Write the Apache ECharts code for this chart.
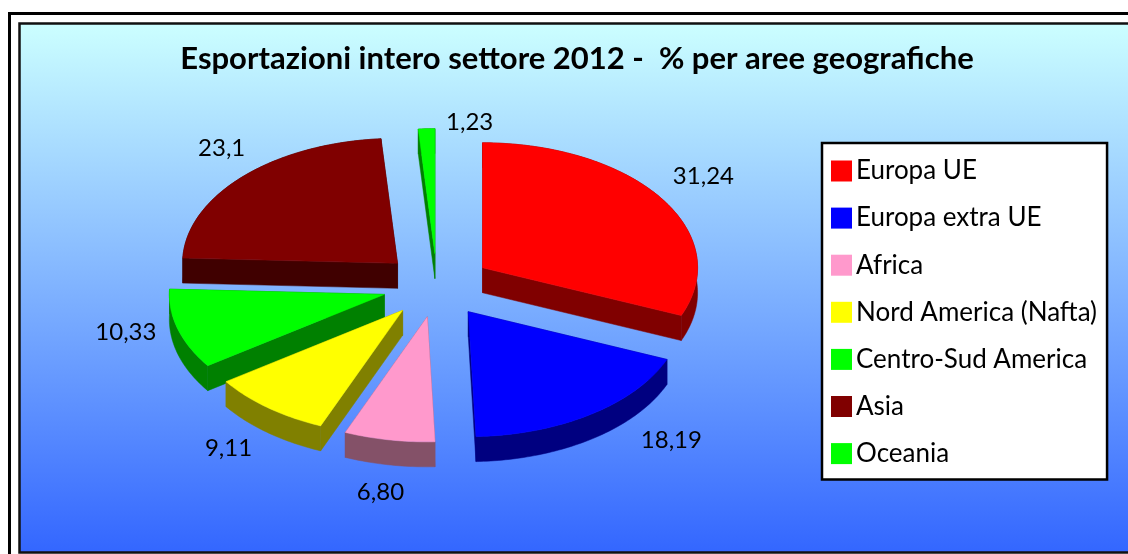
<!DOCTYPE html>
<html>
<head>
<meta charset="utf-8">
<style>html,body{margin:0;padding:0;background:#fff}#c{width:1128px;height:554px}</style>
<script src="https://cdn.jsdelivr.net/npm/echarts@6/dist/echarts.min.js"></script>
</head>
<body>
<div id="c"></div>
<script>
const categories = ['Europa UE','Europa extra UE','Africa','Nord America (Nafta)','Centro-Sud America','Asia','Oceania'];
const values = [31.24,18.19,6.80,9.11,10.33,23.1,1.23];
const valueLabels = ['31,24','18,19','6,80','9,11','10,33','23,1','1,23'];
const topColors = ['#FF0000','#0000FF','#FF99CC','#FFFF00','#00FF00','#800000','#00FF00'];
const sideColors = ['#800000','#000080','#845168','#808000','#008000','#400000','#008000'];
const labelNudges = [[43,-21],[81,27],[-9,54],[-40,42],[-53,4],[-22,-28],[43,-6]];

const FONT = 'Lato';
const CX = 437, CY = 285.5, RX = 215, RY = 125, EXPLODE = 0.255, DEPTH = 25;
const total = values.reduce((a, b) => a + b, 0);
const toRad = Math.PI / 180;
let acc = 0;
const slices = values.map(v => {
  const start = acc / total * 360; acc += v;
  return { start, end: acc / total * 360, mid: (start + acc / total * 360) / 2 };
});
function project(deg, k) {
  return [k * RX * Math.sin(deg * toRad), -k * RY * Math.cos(deg * toRad)];
}
function makeRender(i) {
  return function (params, api) {
    const s = slices[i];
    const off = project(s.mid, EXPLODE);
    const ax = CX + off[0], ay = CY + off[1];
    const arc = [];
    const n = Math.max(2, Math.ceil(s.end - s.start));
    for (let j = 0; j <= n; j++) {
      const p = project(s.start + (s.end - s.start) * j / n, 1);
      arc.push([ax + p[0], ay + p[1]]);
    }
    const drop = p => [p[0], p[1] + DEPTH];
    const sideStyle = { fill: sideColors[i], stroke: sideColors[i], lineWidth: 0.5 };
    const first = arc[0], last = arc[arc.length - 1], apex = [ax, ay];
    const children = [
      { type: 'polygon', silent: true, shape: { points: [apex, first, drop(first), drop(apex)] }, style: sideStyle },
      { type: 'polygon', silent: true, shape: { points: [apex, last, drop(last), drop(apex)] }, style: sideStyle },
      { type: 'polygon', silent: true, shape: { points: arc.concat(arc.map(drop).reverse()) }, style: sideStyle },
      { type: 'polygon', shape: { points: [apex].concat(arc) },
        style: { fill: topColors[i], stroke: topColors[i], lineWidth: 0.5 } }
    ];
    const m = project(s.mid, 1.25);
    children.push({
      type: 'text', silent: true,
      x: CX + m[0] + labelNudges[i][0], y: CY + m[1] + labelNudges[i][1] - 1,
      style: { text: valueLabels[i], fill: '#000', font: '24px ' + FONT, align: 'center', verticalAlign: 'middle' }
    });
    return { type: 'group', children };
  };
}
const chart = echarts.init(document.getElementById('c'), null, { renderer: 'canvas' });
chart.setOption({
  animation: false,
  backgroundColor: '#fff',
  title: {
    text: 'Esportazioni intero settore 2012 -  % per aree geografiche',
    left: 577, top: 43, textAlign: 'center', padding: 0,
    textStyle: { fontFamily: FONT, fontWeight: 'bold', fontSize: 31, color: '#000' }
  },
  legend: {
    data: categories, orient: 'vertical', left: 822, top: 143, itemWidth: 21, itemHeight: 21, itemGap: 21.1,
    padding: [15, 10, 13, 9], icon: 'rect', backgroundColor: '#fff', borderColor: '#000', borderWidth: 2.5,
    borderRadius: 0, selectedMode: false, itemStyle: { borderWidth: 0 },
    textStyle: { fontFamily: FONT, fontSize: 26, lineHeight: 21, color: '#000', padding: [0, 0, 0, -1] }
  },
  graphic: [
    { type: 'rect', z: -10, silent: true, shape: { x: 9.5, y: 13.5, width: 1200, height: 600 }, style: { fill: '#fff', stroke: '#000', lineWidth: 3 } },
    { type: 'rect', z: -9, silent: true, shape: { x: 19.5, y: 23.5, width: 1200, height: 529 },
      style: { stroke: '#111', lineWidth: 2.5, fill: new echarts.graphic.LinearGradient(0, 0, 0, 1, [
        { offset: 0, color: '#CCFFFF' }, { offset: 1, color: '#3366FF' } ]) } }
  ],
  series: categories.map((name, i) => ({
    type: 'custom', name, coordinateSystem: 'none', data: [values[i]],
    z: 2 + Math.round(CY + project(slices[i].mid, EXPLODE)[1]) / 1000,
    itemStyle: { color: topColors[i] },
    renderItem: makeRender(i), clip: false
  }))
});
</script>
</body>
</html>
